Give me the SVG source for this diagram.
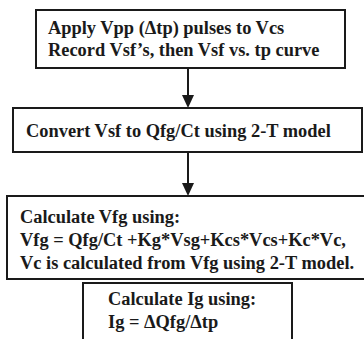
<svg xmlns="http://www.w3.org/2000/svg" width="364" height="339" viewBox="0 0 364 339">
  <style>
    .box { fill: #ffffff; stroke: #1a1a1a; stroke-width: 2; }
    .lbl { font-family: "Liberation Serif", "Times New Roman", serif; font-weight: bold; font-size: 18.4px; fill: #1a1a1a; }
    .conn { stroke: #1a1a1a; stroke-width: 2; fill: none; }
    .head { fill: #1a1a1a; }
  </style>
  <rect width="364" height="339" fill="#ffffff"/>

  <g id="connectors">
    <line class="conn" x1="188" y1="68" x2="188" y2="96"/>
    <polygon class="head" points="182,95 194,95 188,108"/>
    <line class="conn" x1="188" y1="152" x2="188" y2="184"/>
    <polygon class="head" points="182,183 194,183 188,196"/>
  </g>

  <g id="apply-pulses">
    <rect class="box" x="36" y="10" width="309" height="58"/>
    <text class="lbl" x="48" y="34">Apply Vpp (Δtp) pulses to Vcs</text>
    <text class="lbl" x="48" y="56">Record Vsf’s, then Vsf vs. tp curve</text>
  </g>

  <g id="convert-vsf">
    <rect class="box" x="13" y="108" width="349" height="44"/>
    <text class="lbl" x="26" y="137">Convert Vsf to Qfg/Ct using 2-T model</text>
  </g>

  <g id="calculate-vfg">
    <rect class="box" x="7" y="196" width="360" height="83"/>
    <text class="lbl" x="20" y="223">Calculate Vfg using:</text>
    <text class="lbl" x="20" y="246">Vfg = Qfg/Ct +Kg*Vsg+Kcs*Vcs+Kc*Vc,</text>
    <text class="lbl" x="20" y="269">Vc is calculated from Vfg using 2-T model.</text>
  </g>

  <g id="calculate-ig">
    <rect class="box" x="83" y="283" width="209" height="70"/>
    <text class="lbl" x="108" y="305">Calculate Ig using:</text>
    <text class="lbl" x="108" y="328">Ig = ΔQfg/Δtp</text>
  </g>
</svg>
